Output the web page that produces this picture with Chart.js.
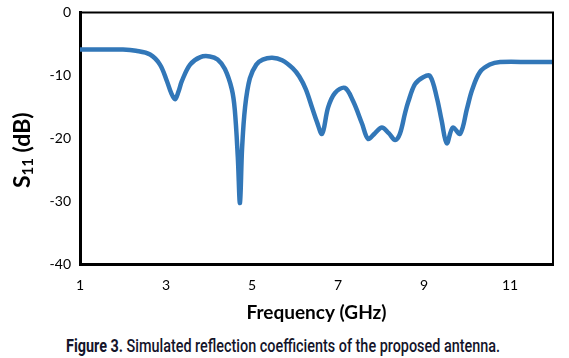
<!DOCTYPE html>
<html>
<head>
<meta charset="utf-8">
<script src="https://cdn.jsdelivr.net/npm/chart.js@4/dist/chart.umd.min.js"></script>
<style>
  body { margin: 0; background: #fff; }
  #wrap { position: absolute; left: 0; top: 0; width: 569px; height: 329px; }
  #caption {
    position: absolute; left: 66px; top: 335px;
    font-family: "Roboto", sans-serif; font-weight: 500;
    font-size: 18px; line-height: 22px; color: #14142a; white-space: nowrap;
    transform: scaleX(0.80); transform-origin: left top;
  }
  #caption b { font-weight: bold; }
</style>
</head>
<body>
<div id="wrap"><canvas id="myChart"></canvas></div>
<div id="caption"><b>Figure 3.</b> Simulated reflection coefficients of the proposed antenna.</div>
<script>
// simulated S11
var freqGHz = [1, 1.5, 2.0, 2.3, 2.63, 2.86, 3.02, 3.12, 3.21, 3.29, 3.37, 3.56, 3.8, 4.02, 4.2, 4.37,
  4.53, 4.6, 4.67, 4.72, 4.77, 4.84, 4.95, 5.1, 5.25, 5.47, 5.7, 5.95, 6.1, 6.25, 6.4, 6.51,
  6.63, 6.77, 6.93, 7.16, 7.35, 7.56, 7.7, 7.86, 8.02, 8.18, 8.33, 8.44, 8.56, 8.63, 8.79, 8.98, 9.14,
  9.3, 9.41, 9.53, 9.67, 9.84, 10.0, 10.12, 10.3, 10.53, 10.77, 11.5, 12];
var s11dB = [-5.9, -5.9, -5.9, -6.1, -6.7, -8.3, -10.9, -12.8, -13.8, -12.6, -10.9, -8.3, -7.1, -7.0, -7.5, -9.0,
  -12.2, -15.5, -23, -30.3, -21.5, -15, -10.5, -8.3, -7.5, -7.2, -7.6, -8.9, -10.2, -12.2, -15.2, -17.4,
  -19.3, -15.1, -12.8, -12.0, -14.1, -17.7, -20.1, -19.2, -18.3, -19.2, -20.3, -19.3, -16, -14.3, -11.4, -10.3, -10.1,
  -13.6, -17.2, -20.8, -18.3, -19.3, -15.3, -12.3, -9.5, -8.3, -7.9, -7.9, -7.9];

var xTicks = [1, 3, 5, 7, 9, 11];
var yTicks = [0, -10, -20, -30, -40];

var points = [];
for (var i = 0; i < freqGHz.length; i++) {
  points.push({ x: freqGHz[i], y: s11dB[i] });
}

// thin frame on top and right, plus the S11 title with a real subscript
var framePlugin = {
  id: 'frame',
  afterDraw: function (chart) {
    var a = chart.chartArea, c = chart.ctx;
    c.save();
    c.strokeStyle = '#000';
    c.lineWidth = 2;
    c.beginPath();
    c.moveTo(a.left, a.top);
    c.lineTo(a.right, a.top);
    c.lineTo(a.right, a.bottom);
    c.stroke();

    var big = 'bold 23px Lato', small = 'bold 15px Lato';
    c.font = big;
    var wS = c.measureText('S').width, wRest = c.measureText(' (dB)').width;
    c.font = small;
    var wSub = c.measureText('11').width;
    var total = wS + wSub + wRest;
    c.translate(a.left - 57, (a.top + a.bottom) / 2 + 12);
    c.rotate(-Math.PI / 2);
    c.fillStyle = '#000';
    c.textBaseline = 'middle';
    c.textAlign = 'left';
    var x0 = -total / 2;
    c.font = big;
    c.fillText('S', x0, 0);
    c.font = small;
    c.fillText('11', x0 + wS, 5);
    c.font = big;
    c.fillText(' (dB)', x0 + wS + wSub, 0);
    c.restore();
  }
};

const ctx = document.getElementById('myChart');
const myChart = new Chart(ctx, {
  type: 'line',
  data: {
    datasets: [{
      data: points,
      borderColor: 'rgb(50, 119, 184)',
      borderWidth: 4.5,
      pointRadius: 0,
      tension: 0.35,
      fill: false
    }]
  },
  options: {
    responsive: true,
    maintainAspectRatio: false,
    animation: false,
    layout: { padding: { top: 11, right: 16, left: 0, bottom: 0 } },
    plugins: { legend: { display: false }, tooltip: { enabled: false } },
    scales: {
      x: {
        type: 'linear',
        min: 1, max: 12,
        afterBuildTicks: function (axis) {
          axis.ticks = xTicks.map(function (v) { return { value: v }; });
        },
        afterFit: function (axis) { axis.height = 65; },
        grid: { display: false, drawTicks: false },
        border: { display: true, color: '#000', width: 3 },
        ticks: { color: '#000', font: { family: 'Lato', size: 14, lineHeight: 1 }, padding: 14, maxRotation: 0 },
        title: {
          display: true, text: 'Frequency (GHz)', color: '#000',
          font: { family: 'Lato', size: 19, weight: 'bold', lineHeight: 1.1 }, padding: { top: 0, bottom: 6 }
        }
      },
      y: {
        type: 'linear',
        min: -40, max: 0,
        afterBuildTicks: function (axis) {
          axis.ticks = yTicks.map(function (v) { return { value: v }; });
        },
        afterFit: function (axis) { axis.width = 80; },
        grid: { display: false, drawTicks: true, tickLength: 5, tickColor: '#000', tickWidth: 2 },
        border: { display: true, color: '#000', width: 3 },
        ticks: { color: '#000', font: { family: 'Lato', size: 14 }, padding: 4 }
      }
    }
  },
  plugins: [framePlugin]
});
</script>
</body>
</html>
